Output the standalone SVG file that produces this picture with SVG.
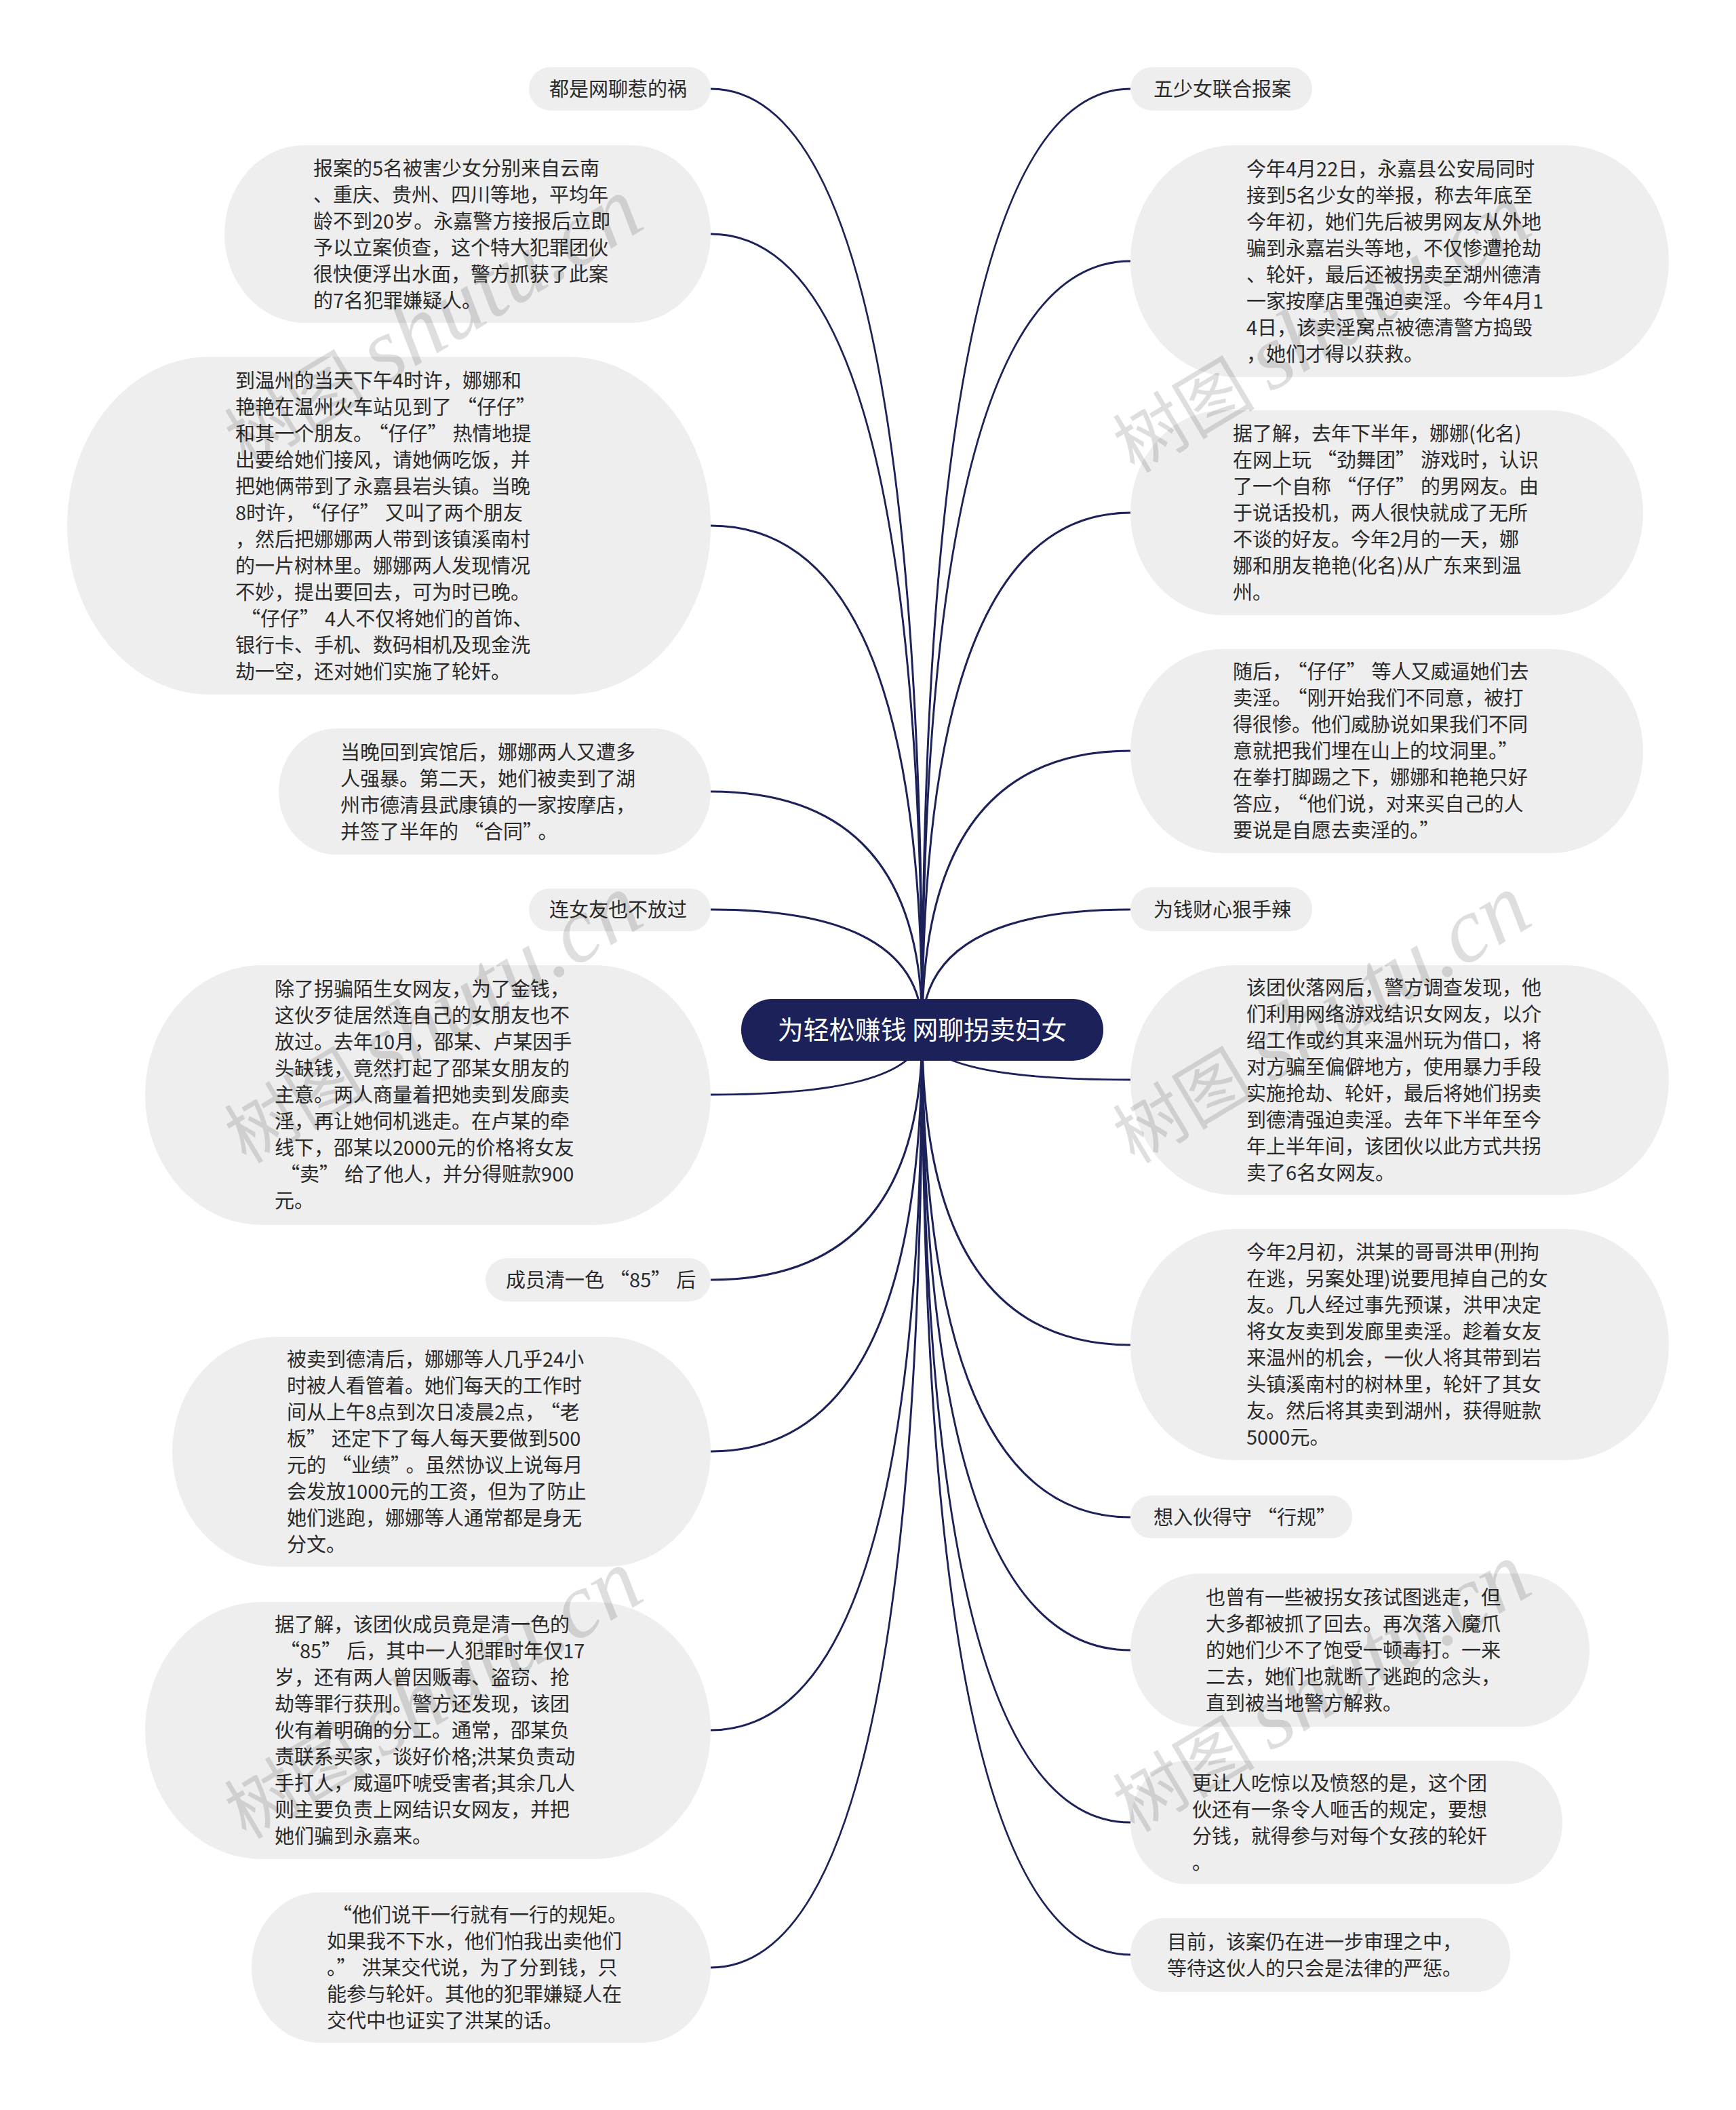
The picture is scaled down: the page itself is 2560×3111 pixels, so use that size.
<svg xmlns="http://www.w3.org/2000/svg" width="2560" height="3111" viewBox="0 0 2560 3111">
<style>
.bg{fill:#ffffff}
.edge{fill:none;stroke:#1c2259;stroke-width:3}
.pill{fill:#eeeeee}
.root{fill:#1c2259}
.t{font-family:"Noto Sans CJK SC","Noto Sans",sans-serif;font-size:29px;fill:#2a2a2a}
.qr{letter-spacing:8px}
.rt{font-family:"Noto Sans CJK SC","Noto Sans",sans-serif;font-size:38px;fill:#ffffff}
.wm{font-family:"Noto Sans CJK SC",sans-serif;font-size:105px;fill:#000;fill-opacity:0.13}
.wm .i{font-family:"Liberation Serif",serif;font-style:italic;font-size:136px}
</style>
<rect class="bg" x="0" y="0" width="2560" height="3111"/>
<g id="connectors">
<path class="edge" d="M1360 1518 Q1360 131 1048 131"/>
<path class="edge" d="M1360 1518 Q1360 345 1048 345"/>
<path class="edge" d="M1360 1518 Q1360 775 1048 775"/>
<path class="edge" d="M1360 1518 Q1360 1167 1048 1167"/>
<path class="edge" d="M1360 1518 Q1360 1341 1048 1341"/>
<path class="edge" d="M1360 1518 Q1360 1614 1048 1614"/>
<path class="edge" d="M1360 1518 Q1360 1887 1048 1887"/>
<path class="edge" d="M1360 1518 Q1360 2140 1048 2140"/>
<path class="edge" d="M1360 1518 Q1360 2551 1048 2551"/>
<path class="edge" d="M1360 1518 Q1360 2901 1048 2901"/>
<path class="edge" d="M1360 1518 Q1360 131 1667 131"/>
<path class="edge" d="M1360 1518 Q1360 385 1667 385"/>
<path class="edge" d="M1360 1518 Q1360 756 1667 756"/>
<path class="edge" d="M1360 1518 Q1360 1107 1667 1107"/>
<path class="edge" d="M1360 1518 Q1360 1341 1667 1341"/>
<path class="edge" d="M1360 1518 Q1360 1592 1667 1592"/>
<path class="edge" d="M1360 1518 Q1360 1983 1667 1983"/>
<path class="edge" d="M1360 1518 Q1360 2237 1667 2237"/>
<path class="edge" d="M1360 1518 Q1360 2433 1667 2433"/>
<path class="edge" d="M1360 1518 Q1360 2687 1667 2687"/>
<path class="edge" d="M1360 1518 Q1360 2882 1667 2882"/>
</g>
<g id="root">
<rect class="root" x="1093" y="1473" width="534" height="91" rx="45" ry="45"/>
<text class="rt" x="1360" y="1532" text-anchor="middle">为轻松赚钱 网聊拐卖妇女</text>
</g>
<g id="L1">
<rect class="pill" x="780" y="99" width="268" height="64" rx="32" ry="32"/>
<text class="t" x="810" y="142">都是网聊惹的祸</text>
</g>
<g id="L2">
<rect class="pill" x="331" y="214" width="717" height="262" rx="118" ry="131"/>
<text class="t"><tspan x="462" y="258.5">报案的5名被害少女分别来自云南</tspan><tspan x="462" dy="39">、重庆、贵州、四川等地，平均年</tspan><tspan x="462" dy="39">龄不到20岁。永嘉警方接报后立即</tspan><tspan x="462" dy="39">予以立案侦查，这个特大犯罪团伙</tspan><tspan x="462" dy="39">很快便浮出水面，警方抓获了此案</tspan><tspan x="462" dy="39">的7名犯罪嫌疑人。</tspan></text>
</g>
<g id="L3">
<rect class="pill" x="99" y="526" width="949" height="498" rx="210" ry="249"/>
<text class="t"><tspan x="347" y="571.5">到温州的当天下午4时许，娜娜和</tspan><tspan x="347" dy="39">艳艳在温州火车站见到了<tspan dx="8">“</tspan>仔仔<tspan class="qr">”</tspan></tspan><tspan x="347" dy="39">和其一个朋友。<tspan dx="8">“</tspan>仔仔<tspan class="qr">”</tspan>热情地提</tspan><tspan x="347" dy="39">出要给她们接风，请她俩吃饭，并</tspan><tspan x="347" dy="39">把她俩带到了永嘉县岩头镇。当晚</tspan><tspan x="347" dy="39">8时许，<tspan dx="8">“</tspan>仔仔<tspan class="qr">”</tspan>又叫了两个朋友</tspan><tspan x="347" dy="39">，然后把娜娜两人带到该镇溪南村</tspan><tspan x="347" dy="39">的一片树林里。娜娜两人发现情况</tspan><tspan x="347" dy="39">不妙，提出要回去，可为时已晚。</tspan><tspan x="347" dy="39"><tspan dx="8">“</tspan>仔仔<tspan class="qr">”</tspan>4人不仅将她们的首饰、</tspan><tspan x="347" dy="39">银行卡、手机、数码相机及现金洗</tspan><tspan x="347" dy="39">劫一空，还对她们实施了轮奸。</tspan></text>
</g>
<g id="L4">
<rect class="pill" x="411" y="1074" width="637" height="186" rx="84" ry="93"/>
<text class="t"><tspan x="502" y="1119.5">当晚回到宾馆后，娜娜两人又遭多</tspan><tspan x="502" dy="39">人强暴。第二天，她们被卖到了湖</tspan><tspan x="502" dy="39">州市德清县武康镇的一家按摩店，</tspan><tspan x="502" dy="39">并签了半年的<tspan dx="8">“</tspan>合同<tspan class="qr">”</tspan>。</tspan></text>
</g>
<g id="L5">
<rect class="pill" x="780" y="1310" width="268" height="63" rx="31" ry="31"/>
<text class="t" x="810" y="1352">连女友也不放过</text>
</g>
<g id="L6">
<rect class="pill" x="214" y="1423" width="834" height="383" rx="172" ry="191"/>
<text class="t"><tspan x="405" y="1469">除了拐骗陌生女网友，为了金钱，</tspan><tspan x="405" dy="39">这伙歹徒居然连自己的女朋友也不</tspan><tspan x="405" dy="39">放过。去年10月，邵某、卢某因手</tspan><tspan x="405" dy="39">头缺钱，竟然打起了邵某女朋友的</tspan><tspan x="405" dy="39">主意。两人商量着把她卖到发廊卖</tspan><tspan x="405" dy="39">淫，再让她伺机逃走。在卢某的牵</tspan><tspan x="405" dy="39">线下，邵某以2000元的价格将女友</tspan><tspan x="405" dy="39"><tspan dx="8">“</tspan>卖<tspan class="qr">”</tspan>给了他人，并分得赃款900</tspan><tspan x="405" dy="39">元。</tspan></text>
</g>
<g id="L7">
<rect class="pill" x="716" y="1855" width="332" height="64" rx="32" ry="32"/>
<text class="t" x="746" y="1898">成员清一色<tspan dx="8">“</tspan>85<tspan class="qr">”</tspan>后</text>
</g>
<g id="L8">
<rect class="pill" x="254" y="1971" width="794" height="339" rx="153" ry="170"/>
<text class="t"><tspan x="423" y="2014.5">被卖到德清后，娜娜等人几乎24小</tspan><tspan x="423" dy="39">时被人看管着。她们每天的工作时</tspan><tspan x="423" dy="39">间从上午8点到次日凌晨2点，<tspan dx="8">“</tspan>老</tspan><tspan x="423" dy="39">板<tspan class="qr">”</tspan>还定下了每人每天要做到500</tspan><tspan x="423" dy="39">元的<tspan dx="8">“</tspan>业绩<tspan class="qr">”</tspan>。虽然协议上说每月</tspan><tspan x="423" dy="39">会发放1000元的工资，但为了防止</tspan><tspan x="423" dy="39">她们逃跑，娜娜等人通常都是身无</tspan><tspan x="423" dy="39">分文。</tspan></text>
</g>
<g id="L9">
<rect class="pill" x="214" y="2362" width="834" height="379" rx="171" ry="190"/>
<text class="t"><tspan x="405" y="2406">据了解，该团伙成员竟是清一色的</tspan><tspan x="405" dy="39"><tspan dx="8">“</tspan>85<tspan class="qr">”</tspan>后，其中一人犯罪时年仅17</tspan><tspan x="405" dy="39">岁，还有两人曾因贩毒、盗窃、抢</tspan><tspan x="405" dy="39">劫等罪行获刑。警方还发现，该团</tspan><tspan x="405" dy="39">伙有着明确的分工。通常，邵某负</tspan><tspan x="405" dy="39">责联系买家，谈好价格;洪某负责动</tspan><tspan x="405" dy="39">手打人，威逼吓唬受害者;其余几人</tspan><tspan x="405" dy="39">则主要负责上网结识女网友，并把</tspan><tspan x="405" dy="39">她们骗到永嘉来。</tspan></text>
</g>
<g id="L10">
<rect class="pill" x="371" y="2790" width="677" height="222" rx="100" ry="111"/>
<text class="t"><tspan x="482" y="2834"><tspan dx="8">“</tspan>他们说干一行就有一行的规矩。</tspan><tspan x="482" dy="39">如果我不下水，他们怕我出卖他们</tspan><tspan x="482" dy="39">。<tspan class="qr">”</tspan>洪某交代说，为了分到钱，只</tspan><tspan x="482" dy="39">能参与轮奸。其他的犯罪嫌疑人在</tspan><tspan x="482" dy="39">交代中也证实了洪某的话。</tspan></text>
</g>
<g id="R1">
<rect class="pill" x="1667" y="99" width="268" height="64" rx="32" ry="32"/>
<text class="t" x="1701" y="142">五少女联合报案</text>
</g>
<g id="R2">
<rect class="pill" x="1667" y="214" width="794" height="342" rx="154" ry="171"/>
<text class="t"><tspan x="1838" y="259.5">今年4月22日，永嘉县公安局同时</tspan><tspan x="1838" dy="39">接到5名少女的举报，称去年底至</tspan><tspan x="1838" dy="39">今年初，她们先后被男网友从外地</tspan><tspan x="1838" dy="39">骗到永嘉岩头等地，不仅惨遭抢劫</tspan><tspan x="1838" dy="39">、轮奸，最后还被拐卖至湖州德清</tspan><tspan x="1838" dy="39">一家按摩店里强迫卖淫。今年4月1</tspan><tspan x="1838" dy="39">4日，该卖淫窝点被德清警方捣毁</tspan><tspan x="1838" dy="39">，她们才得以获救。</tspan></text>
</g>
<g id="R3">
<rect class="pill" x="1667" y="605" width="756" height="302" rx="136" ry="151"/>
<text class="t"><tspan x="1818" y="650">据了解，去年下半年，娜娜(化名)</tspan><tspan x="1818" dy="39">在网上玩<tspan dx="8">“</tspan>劲舞团<tspan class="qr">”</tspan>游戏时，认识</tspan><tspan x="1818" dy="39">了一个自称<tspan dx="8">“</tspan>仔仔<tspan class="qr">”</tspan>的男网友。由</tspan><tspan x="1818" dy="39">于说话投机，两人很快就成了无所</tspan><tspan x="1818" dy="39">不谈的好友。今年2月的一天，娜</tspan><tspan x="1818" dy="39">娜和朋友艳艳(化名)从广东来到温</tspan><tspan x="1818" dy="39">州。</tspan></text>
</g>
<g id="R4">
<rect class="pill" x="1667" y="957" width="756" height="301" rx="135" ry="150"/>
<text class="t"><tspan x="1818" y="1001">随后，<tspan dx="8">“</tspan>仔仔<tspan class="qr">”</tspan>等人又威逼她们去</tspan><tspan x="1818" dy="39">卖淫。<tspan dx="8">“</tspan>刚开始我们不同意，被打</tspan><tspan x="1818" dy="39">得很惨。他们威胁说如果我们不同</tspan><tspan x="1818" dy="39">意就把我们埋在山上的坟洞里。<tspan class="qr">”</tspan></tspan><tspan x="1818" dy="39">在拳打脚踢之下，娜娜和艳艳只好</tspan><tspan x="1818" dy="39">答应，<tspan dx="8">“</tspan>他们说，对来买自己的人</tspan><tspan x="1818" dy="39">要说是自愿去卖淫的。<tspan class="qr">”</tspan></tspan></text>
</g>
<g id="R5">
<rect class="pill" x="1667" y="1308" width="268" height="65" rx="32" ry="32"/>
<text class="t" x="1701" y="1352">为钱财心狠手辣</text>
</g>
<g id="R6">
<rect class="pill" x="1667" y="1423" width="794" height="339" rx="153" ry="170"/>
<text class="t"><tspan x="1838" y="1466.5">该团伙落网后，警方调查发现，他</tspan><tspan x="1838" dy="39">们利用网络游戏结识女网友，以介</tspan><tspan x="1838" dy="39">绍工作或约其来温州玩为借口，将</tspan><tspan x="1838" dy="39">对方骗至偏僻地方，使用暴力手段</tspan><tspan x="1838" dy="39">实施抢劫、轮奸，最后将她们拐卖</tspan><tspan x="1838" dy="39">到德清强迫卖淫。去年下半年至今</tspan><tspan x="1838" dy="39">年上半年间，该团伙以此方式共拐</tspan><tspan x="1838" dy="39">卖了6名女网友。</tspan></text>
</g>
<g id="R7">
<rect class="pill" x="1667" y="1812" width="794" height="341" rx="153" ry="170"/>
<text class="t"><tspan x="1838" y="1857">今年2月初，洪某的哥哥洪甲(刑拘</tspan><tspan x="1838" dy="39">在逃，另案处理)说要甩掉自己的女</tspan><tspan x="1838" dy="39">友。几人经过事先预谋，洪甲决定</tspan><tspan x="1838" dy="39">将女友卖到发廊里卖淫。趁着女友</tspan><tspan x="1838" dy="39">来温州的机会，一伙人将其带到岩</tspan><tspan x="1838" dy="39">头镇溪南村的树林里，轮奸了其女</tspan><tspan x="1838" dy="39">友。然后将其卖到湖州，获得赃款</tspan><tspan x="1838" dy="39">5000元。</tspan></text>
</g>
<g id="R8">
<rect class="pill" x="1667" y="2205" width="327" height="63" rx="31" ry="31"/>
<text class="t" x="1701" y="2248">想入伙得守<tspan dx="8">“</tspan>行规<tspan class="qr">”</tspan></text>
</g>
<g id="R9">
<rect class="pill" x="1667" y="2320" width="677" height="226" rx="102" ry="113"/>
<text class="t"><tspan x="1778" y="2366">也曾有一些被拐女孩试图逃走，但</tspan><tspan x="1778" dy="39">大多都被抓了回去。再次落入魔爪</tspan><tspan x="1778" dy="39">的她们少不了饱受一顿毒打。一来</tspan><tspan x="1778" dy="39">二去，她们也就断了逃跑的念头，</tspan><tspan x="1778" dy="39">直到被当地警方解救。</tspan></text>
</g>
<g id="R10">
<rect class="pill" x="1667" y="2596" width="637" height="182" rx="82" ry="91"/>
<text class="t"><tspan x="1758" y="2639.5">更让人吃惊以及愤怒的是，这个团</tspan><tspan x="1758" dy="39">伙还有一条令人咂舌的规定，要想</tspan><tspan x="1758" dy="39">分钱，就得参与对每个女孩的轮奸</tspan><tspan x="1758" dy="39">。</tspan></text>
</g>
<g id="R11">
<rect class="pill" x="1667" y="2828" width="560" height="109" rx="49" ry="54"/>
<text class="t"><tspan x="1721" y="2874">目前，该案仍在进一步审理之中，</tspan><tspan x="1721" dy="39">等待这伙人的只会是法律的严惩。</tspan></text>
</g>
<g id="watermarks" class="wm">
<text transform="translate(363 690) rotate(-31)">树图 <tspan class="i">shutu.cn</tspan></text>
<text transform="translate(1673 699) rotate(-31)">树图 <tspan class="i">shutu.cn</tspan></text>
<text transform="translate(363 1717) rotate(-31)">树图 <tspan class="i">shutu.cn</tspan></text>
<text transform="translate(1673 1717) rotate(-31)">树图 <tspan class="i">shutu.cn</tspan></text>
<text transform="translate(363 2713) rotate(-31)">树图 <tspan class="i">shutu.cn</tspan></text>
<text transform="translate(1673 2703) rotate(-31)">树图 <tspan class="i">shutu.cn</tspan></text>
</g>
</svg>
